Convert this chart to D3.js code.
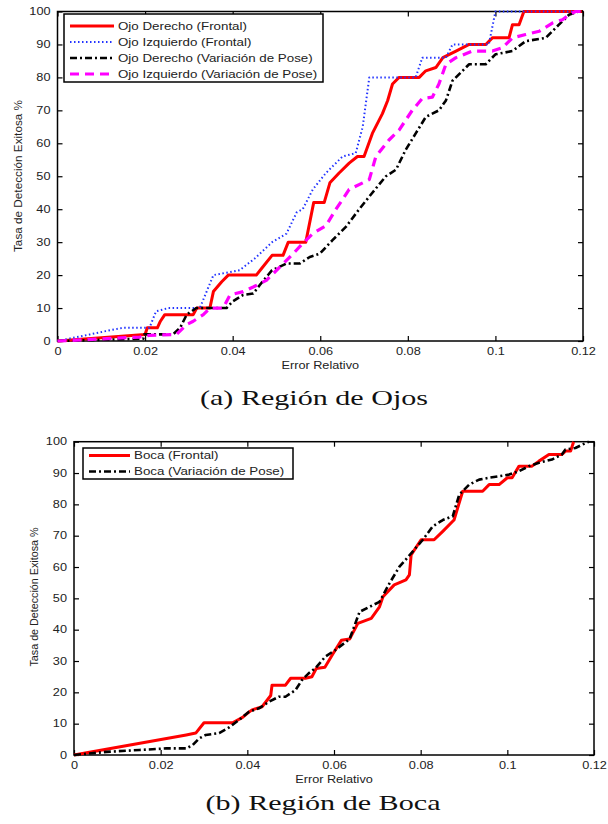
<!DOCTYPE html>
<html><head><meta charset="utf-8">
<script src="https://cdn.jsdelivr.net/npm/d3@7"></script>
<style>
body{margin:0;background:#fff;}
svg{display:block;}
.tick text{font-family:"Liberation Sans",Arial,sans-serif;font-size:10px;fill:#222;}
</style></head><body>
<svg id="c" width="608" height="824"></svg>
<script>
// ---------- data ----------
const xTicks = [0, 0.02, 0.04, 0.06, 0.08, 0.1, 0.12];
const xTickLabels = ["0", "0.02", "0.04", "0.06", "0.08", "0.1", "0.12"];
const yTicks = [0, 10, 20, 30, 40, 50, 60, 70, 80, 90, 100];

const ojosSeries = ["Ojo Derecho (Frontal)", "Ojo Izquierdo (Frontal)", "Ojo Derecho (Variación de Pose)", "Ojo Izquierdo (Variación de Pose)"];
const bocaSeries = ["Boca (Frontal)", "Boca (Variación de Pose)"];

const odFrontalX = [0, 0.02, 0.0205, 0.0228, 0.0235, 0.0245, 0.031, 0.0318, 0.0348, 0.0356, 0.0375, 0.039, 0.0454, 0.0466, 0.049, 0.0515, 0.0527, 0.0567, 0.0585, 0.0609, 0.0622, 0.0643, 0.0666, 0.0685, 0.07, 0.0719, 0.0742, 0.0754, 0.0765, 0.078, 0.0826, 0.0841, 0.0864, 0.088, 0.091, 0.094, 0.0978, 0.0993, 0.1031, 0.1039, 0.1054, 0.1065, 0.12];
const odFrontalY = [0, 2, 4, 4, 6, 8, 8, 10, 10, 15, 18, 20, 20, 22, 26, 26, 30, 30, 42, 42, 48, 51, 54, 56, 56, 63, 69, 73, 78, 80, 80, 82, 83, 86, 88, 90, 90, 92, 92, 96, 96, 100, 100];

const oiFrontalX = [0, 0.0074, 0.011, 0.015, 0.021, 0.0225, 0.0253, 0.0325, 0.0356, 0.0416, 0.045, 0.049, 0.0523, 0.0546, 0.056, 0.0583, 0.0613, 0.0651, 0.0681, 0.0697, 0.0712, 0.0818, 0.0833, 0.0887, 0.0902, 0.0985, 0.1, 0.12];
const oiFrontalY = [0, 2, 3, 4, 4, 9, 10, 10, 20, 21.5, 25, 30, 32.6, 39, 40, 46, 51, 56, 57, 65, 80, 80, 86, 86, 90, 90, 100, 100];

const odPoseX = [0, 0.0196, 0.0198, 0.0264, 0.028, 0.0295, 0.0317, 0.0386, 0.04, 0.0424, 0.0447, 0.0462, 0.049, 0.0523, 0.0553, 0.0576, 0.0599, 0.0628, 0.0659, 0.0689, 0.0719, 0.075, 0.0773, 0.0795, 0.0818, 0.0841, 0.0871, 0.0887, 0.0902, 0.0925, 0.094, 0.0978, 0.1, 0.1039, 0.1069, 0.1115, 0.1145, 0.1168, 0.119, 0.12];
const odPoseY = [0, 0.7, 2, 2, 4, 8, 10, 10, 12, 14, 14.4, 17, 21.5, 23.5, 23.5, 25.5, 26.5, 30.6, 34.7, 40, 45, 50, 52, 58, 63, 68, 70, 73, 79, 82, 84, 84, 87, 88, 91, 92, 96, 99, 100, 100];

const oiPoseX = [0, 0.0188, 0.021, 0.0272, 0.0295, 0.031, 0.0333, 0.0348, 0.0378, 0.0394, 0.0424, 0.0447, 0.0477, 0.0508, 0.0538, 0.056, 0.0583, 0.0613, 0.0636, 0.0666, 0.0697, 0.0712, 0.0727, 0.0757, 0.078, 0.081, 0.0833, 0.0856, 0.0871, 0.0887, 0.091, 0.0948, 0.0993, 0.1016, 0.1039, 0.1069, 0.11, 0.113, 0.1153, 0.1168, 0.1183, 0.12];
const oiPoseY = [0, 1.2, 1.7, 2, 5, 6, 8, 10, 10, 14, 15, 16.4, 18.4, 22.5, 26.5, 29.6, 32.6, 35, 40, 46, 48, 49, 56, 61, 64, 70, 73.6, 74, 78, 84, 86, 88, 88, 89, 92, 93, 94, 96.5, 97.5, 99, 100, 100];

const bocaFrontalX = [0, 0.0259, 0.0281, 0.03, 0.0366, 0.0389, 0.04, 0.0411, 0.0434, 0.0454, 0.0457, 0.0488, 0.05, 0.0534, 0.0549, 0.0559, 0.0579, 0.0598, 0.0617, 0.0636, 0.0655, 0.0686, 0.0705, 0.0713, 0.0739, 0.0766, 0.0774, 0.0778, 0.0801, 0.0831, 0.0851, 0.0874, 0.0877, 0.0897, 0.0943, 0.0958, 0.0981, 0.1, 0.1011, 0.1027, 0.1057, 0.1073, 0.1096, 0.1126, 0.1134, 0.1146, 0.1153];
const bocaFrontalY = [0, 6.4, 7, 10.3, 10.3, 12, 13.3, 14.4, 15.4, 19, 22.3, 22.3, 24.5, 24.5, 25, 27.6, 28, 32.4, 36.6, 37, 42, 43.6, 47.3, 50.5, 54.3, 55.9, 57.5, 63.9, 68.7, 68.7, 71.4, 74.6, 75, 84.2, 84.2, 86.3, 86.3, 88.5, 88.5, 92.2, 92.2, 93.8, 95.9, 95.9, 97, 97, 100];

const bocaPoseX = [0, 0.0075, 0.0151, 0.0213, 0.0259, 0.0274, 0.0289, 0.0304, 0.0335, 0.0358, 0.0381, 0.0404, 0.0427, 0.045, 0.0473, 0.0488, 0.0511, 0.0526, 0.0541, 0.0557, 0.058, 0.0603, 0.0636, 0.0659, 0.0682, 0.0705, 0.0728, 0.0751, 0.0782, 0.0805, 0.0828, 0.0851, 0.0874, 0.0889, 0.0912, 0.0935, 0.0958, 0.0981, 0.1004, 0.1027, 0.105, 0.1073, 0.1103, 0.1126, 0.1134, 0.1157, 0.1172, 0.1188];
const bocaPoseY = [0, 1, 1.6, 2.1, 2.1, 3.2, 5.3, 6.4, 7, 8.8, 11.2, 13.8, 14.9, 17, 18.6, 18.6, 20.7, 23.9, 26, 27.7, 31.4, 33.5, 37, 45.7, 47.3, 48.9, 54.8, 60.1, 65, 68.7, 73, 75, 76.2, 83.1, 86.3, 87.9, 88.5, 89, 89.5, 90.6, 92.2, 93.3, 94.3, 95.9, 97.5, 98, 99, 100];

// ---------- styles ----------
const styles = {
  red:     {stroke:"#ff0000", width:3,   dash:null},
  blue:    {stroke:"#2233ff", width:2,   dash:"1.5,2.5"},
  black:   {stroke:"#000000", width:2.6, dash:"7,3,2,3"},
  magenta: {stroke:"#ff00ff", width:3.2, dash:"9,6"}
};
const SX = 1.27; // horizontal stretch of the sans-serif text in the reference

const svg = d3.select("#c");
const sansFont = '"Liberation Sans",Arial,sans-serif';

function panel(cfg){
  const x = d3.scaleLinear().domain([0, 0.12]).range([cfg.left, cfg.right]);
  const y = d3.scaleLinear().domain([0, 100]).range([cfg.bottom, cfg.top]);
  const g = svg.append("g");
  const fmt = d => xTickLabels[xTicks.indexOf(d)];

  g.append("g").attr("transform", `translate(0,${cfg.bottom})`)
    .call(d3.axisBottom(x).tickValues(xTicks).tickFormat(fmt).tickSizeInner(-5).tickSizeOuter(0).tickPadding(7))
    .call(a => a.select(".domain").remove())
    .call(a => a.selectAll(".tick text").attr("transform", `scale(${SX},1)`));
  g.append("g").attr("transform", `translate(0,${cfg.top})`)
    .call(d3.axisTop(x).tickValues(xTicks).tickFormat("").tickSizeInner(-5).tickSizeOuter(0))
    .call(a => a.select(".domain").remove());
  g.append("g").attr("transform", `translate(${cfg.left},0)`)
    .call(d3.axisLeft(y).tickValues(yTicks).tickSizeInner(-5).tickSizeOuter(0).tickPadding(7))
    .call(a => a.select(".domain").remove())
    .call(a => a.selectAll(".tick text").attr("x", -7 / SX).attr("transform", `scale(${SX},1)`));
  g.append("g").attr("transform", `translate(${cfg.right},0)`)
    .call(d3.axisRight(y).tickValues(yTicks).tickFormat("").tickSizeInner(-5).tickSizeOuter(0))
    .call(a => a.select(".domain").remove());
  g.selectAll(".tick line").attr("stroke", "#000").attr("stroke-width", 1.2);

  g.append("rect").attr("x", cfg.left).attr("y", cfg.top)
    .attr("width", cfg.right - cfg.left).attr("height", cfg.bottom - cfg.top)
    .attr("fill", "none").attr("stroke", "#000").attr("stroke-width", 1.5);

  const line = d3.line().x(d => x(d[0])).y(d => y(d[1]));
  cfg.series.forEach(s => {
    const st = styles[s.style];
    g.append("path").datum(s.xs.map((v, i) => [v, s.ys[i]]))
      .attr("d", line).attr("fill", "none")
      .attr("stroke", st.stroke).attr("stroke-width", st.width)
      .attr("stroke-dasharray", st.dash)
      .attr("stroke-linejoin", "round");
  });

  // legend
  const L = cfg.legend;
  g.append("rect").attr("x", L.x).attr("y", L.y).attr("width", L.w).attr("height", L.h)
    .attr("fill", "#fff").attr("stroke", "#000").attr("stroke-width", 1.5);
  cfg.series.forEach((s, i) => {
    const st = styles[s.style];
    const yy = L.y + L.first + i * L.step;
    g.append("line").attr("x1", L.x + 6).attr("x2", L.x + L.sample).attr("y1", yy).attr("y2", yy)
      .attr("stroke", st.stroke).attr("stroke-width", st.width).attr("stroke-dasharray", st.dash);
    g.append("text").attr("transform", `translate(${L.x + L.sample + 4},${yy + 3.5}) scale(${SX},1)`)
      .attr("font-family", sansFont).attr("font-size", 10.5).attr("fill", "#222")
      .text(s.name);
  });

  // axis labels
  g.append("text").attr("transform", `translate(${(cfg.left + cfg.right) / 2},${cfg.bottom + 28}) scale(${SX},1)`)
    .attr("text-anchor", "middle").attr("font-family", sansFont).attr("font-size", 10)
    .attr("fill", "#222").text("Error Relativo");
  g.append("text").attr("transform", `translate(${cfg.yl.x},${cfg.yl.y}) rotate(-90)`)
    .attr("text-anchor", "middle").attr("font-family", sansFont).attr("font-size", 10)
    .attr("textLength", cfg.yl.len).attr("lengthAdjust", "spacingAndGlyphs")
    .attr("fill", "#222").text("Tasa de Detección Exitosa %");

  svg.append("text").attr("x", cfg.cap.x).attr("y", cfg.cap.y).attr("text-anchor", "middle")
    .attr("font-family", '"Liberation Serif","DejaVu Serif",serif').attr("font-size", 22)
    .attr("textLength", cfg.cap.len).attr("lengthAdjust", "spacingAndGlyphs")
    .attr("fill", "#111").text(cfg.cap.text);
}

panel({
  left: 57.5, right: 583, top: 11.5, bottom: 341,
  series: [
    {name: ojosSeries[0], xs: odFrontalX, ys: odFrontalY, style: "red"},
    {name: ojosSeries[1], xs: oiFrontalX, ys: oiFrontalY, style: "blue"},
    {name: ojosSeries[2], xs: odPoseX, ys: odPoseY, style: "black"},
    {name: ojosSeries[3], xs: oiPoseX, ys: oiPoseY, style: "magenta"}
  ],
  legend: {x: 64, y: 14, w: 259, h: 68, first: 12, step: 16, sample: 50},
  yl: {x: 21.5, y: 176, len: 152},
  cap: {x: 314, y: 405, len: 228, text: "(a) Región de Ojos"}
});

panel({
  left: 74, right: 594, top: 441.7, bottom: 755,
  series: [
    {name: bocaSeries[0], xs: bocaFrontalX, ys: bocaFrontalY, style: "red"},
    {name: bocaSeries[1], xs: bocaPoseX, ys: bocaPoseY, style: "black"}
  ],
  legend: {x: 83, y: 448, w: 210, h: 31, first: 7.5, step: 16, sample: 47},
  yl: {x: 37.5, y: 597, len: 139},
  cap: {x: 323, y: 810, len: 235, text: "(b) Región de Boca"}
});
</script>
</body></html>
